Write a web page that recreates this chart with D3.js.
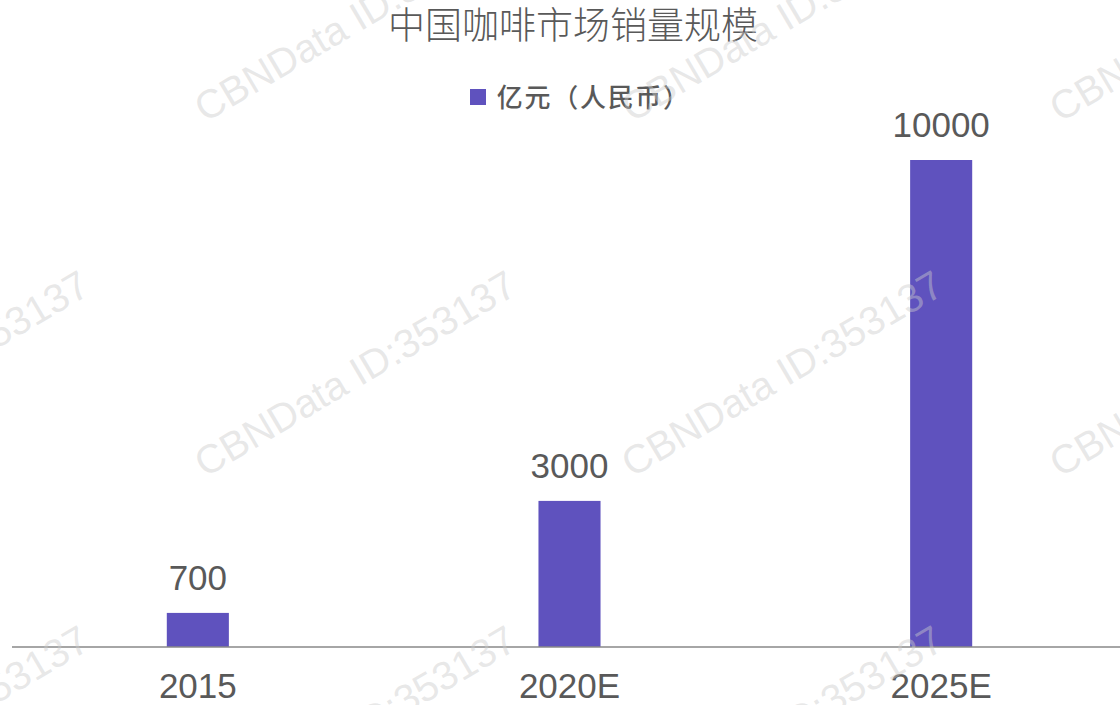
<!DOCTYPE html>
<html><head><meta charset="utf-8">
<script src="https://cdn.jsdelivr.net/npm/d3@7"></script>
<style>body{margin:0;background:#fff}svg{display:block}</style>
</head><body>
<svg id="c" width="1120" height="705"></svg>
<script>
const categories = ["2015", "2020E", "2025E"];
const values = [700, 3000, 10000];
const seriesName = "亿元（人民币）";
const title = "中国咖啡市场销量规模";
const watermark = "CBNData ID:353137";

const W = 1120, H = 705;
const svg = d3.select("#c");
const barColor = "#5f52be";
const textColor = "#595959";
const cjk = "'Noto Sans CJK SC','Noto Sans',sans-serif";
const latin = "'Liberation Sans',Arial,sans-serif";

const x = d3.scaleBand().domain(categories).range([12, 1127]).padding(0);
const y = d3.scaleLinear().domain([0, 10000]).range([647, 160]);
const bw = x.bandwidth() * 0.167;

svg.append("g").selectAll("rect").data(values).join("rect")
  .attr("x", (d, i) => x(categories[i]) + x.bandwidth() / 2 - bw / 2)
  .attr("y", d => y(d)).attr("width", bw).attr("height", d => y(0) - y(d))
  .attr("fill", barColor);

svg.append("g").selectAll("text").data(values).join("text")
  .attr("x", (d, i) => x(categories[i]) + x.bandwidth() / 2)
  .attr("y", d => y(d) - 23).attr("text-anchor", "middle")
  .attr("font-family", latin).attr("font-size", 35).attr("fill", textColor)
  .text(d => d);

const axis = svg.append("g").attr("transform", `translate(0,${y(0)})`)
  .call(d3.axisBottom(x).tickSize(0).tickPadding(0));
axis.select(".domain").attr("stroke", "#898989").attr("stroke-width", 1.5)
  .attr("d", `M12,0H1120`);
axis.selectAll(".tick text").attr("font-family", latin).attr("font-size", 35)
  .attr("fill", textColor).attr("dy", 0).attr("y", 51);

svg.append("text").attr("x", 573).attr("y", 39).attr("text-anchor", "middle")
  .attr("font-family", cjk).attr("font-weight", 300).attr("font-size", 37)
  .attr("fill", textColor).text(title);

const lg = svg.append("g");
lg.append("rect").attr("x", 470).attr("y", 89).attr("width", 16).attr("height", 16).attr("fill", barColor);
const chW = 27.7;
lg.append("text").attr("y", 107).attr("font-family", cjk).attr("text-anchor", "middle")
  .attr("font-weight", 500).attr("font-size", 26).attr("fill", textColor)
  .selectAll("tspan").data(Array.from(seriesName)).join("tspan")
  .attr("x", (d, i) => 496 + chW * i + chW / 2).text(d => d);

// watermarks (overlay)
const wm = svg.append("g").attr("fill", "#cccccc").attr("fill-opacity", 0.45);
const wx = [-222, 205, 632, 1060], wy = [123, 478, 833];
wx.forEach(x => wy.forEach(y => {
  wm.append("text").attr("transform", `translate(${x},${y}) rotate(-30.5)`)
    .attr("font-family", latin).attr("font-size", 40)
    .text(watermark);
}));
</script>
</body></html>
